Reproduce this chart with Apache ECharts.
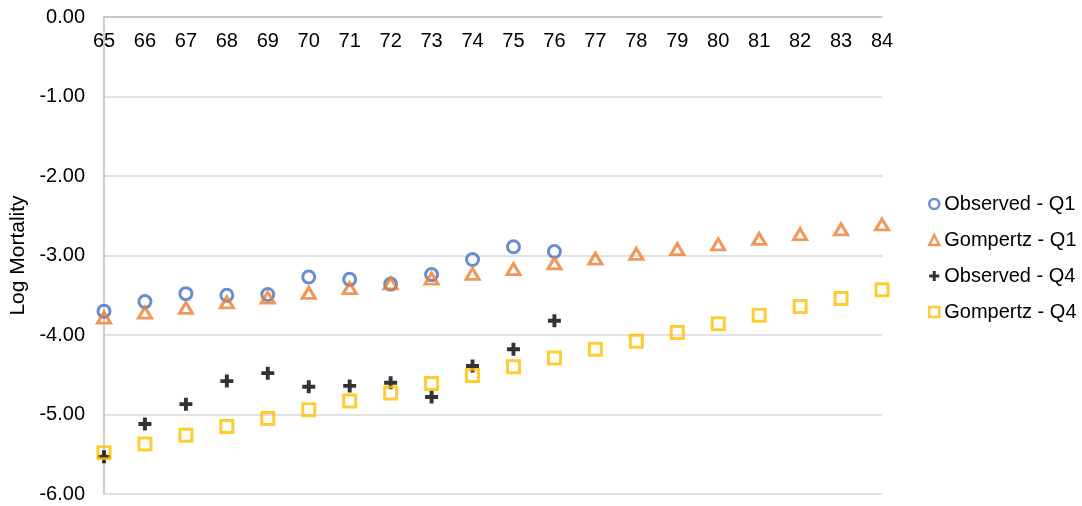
<!DOCTYPE html>
<html>
<head>
<meta charset="utf-8">
<script src="https://cdn.jsdelivr.net/npm/echarts@6/dist/echarts.min.js"></script>
<style>
  html, body { margin: 0; padding: 0; background: #fff; }
  #chart { width: 1082px; height: 506px; }
</style>
</head>
<body>
<div id="chart"></div>
<script>
// Ages on the category axis
const ages = ['65','66','67','68','69','70','71','72','73','74','75','76','77','78','79','80','81','82','83','84'];

// Log mortality by age
const observedQ1 = [-3.70, -3.58, -3.48, -3.50, -3.49, -3.27, -3.30, -3.36, -3.24, -3.05, -2.89, -2.95];
const gompertzQ1 = [-3.78, -3.72, -3.66, -3.59, -3.53, -3.47, -3.41, -3.35, -3.29, -3.23, -3.17, -3.10,
                    -3.04, -2.98, -2.92, -2.86, -2.79, -2.73, -2.67, -2.61];
const observedQ4 = [-5.53, -5.12, -4.87, -4.58, -4.48, -4.65, -4.64, -4.60, -4.78, -4.39, -4.18, -3.82];
const gompertzQ4 = [-5.48, -5.37, -5.26, -5.15, -5.05, -4.94, -4.83, -4.73, -4.61, -4.51, -4.40, -4.29,
                    -4.18, -4.08, -3.97, -3.86, -3.75, -3.64, -3.54, -3.43];

// Y axis ticks
const yMin = -6, yMax = 0, yStep = 1;

const font = 'Arial, "Liberation Sans", sans-serif';
const plusPath = 'path://M3.5,0H6.5V3.5H10V6.5H6.5V10H3.5V6.5H0V3.5H3.5Z';

const chart = echarts.init(document.getElementById('chart'));
chart.setOption({
  animation: false,
  backgroundColor: '#fff',
  textStyle: { fontFamily: font },
  grid: { left: 104, right: 200, top: 17, bottom: 12, outerBoundsMode: 'none', containLabel: false },
  legend: {
    orient: 'vertical',
    left: 923,
    top: 189,
    itemWidth: 10,
    itemHeight: 10,
    itemGap: 16,
    itemStyle: { borderWidth: 2.5 },
    textStyle: { fontSize: 20, lineHeight: 20, color: '#000', fontFamily: font },
    data: ['Observed - Q1', 'Gompertz - Q1', 'Observed - Q4', 'Gompertz - Q4']
  },
  xAxis: {
    type: 'category',
    data: ages,
    position: 'top',
    boundaryGap: false,
    axisLine: { show: true, onZero: false, lineStyle: { color: '#bfbfbf', width: 1.5 } },
    axisTick: { show: false },
    axisLabel: { inside: true, margin: 14, fontSize: 20, lineHeight: 20, color: '#000', fontFamily: font },
    splitLine: { show: false }
  },
  yAxis: {
    type: 'value',
    min: yMin,
    max: yMax,
    interval: yStep,
    name: 'Log Mortality',
    nameLocation: 'middle',
    nameRotate: 90,
    nameGap: 75,
    nameTextStyle: { fontSize: 21, color: '#000', fontFamily: font },
    axisLine: { show: true, lineStyle: { color: '#bfbfbf', width: 1.5 } },
    axisTick: { show: false },
    axisLabel: {
      margin: 19, fontSize: 20, color: '#000', fontFamily: font,
      formatter: v => v.toFixed(2)
    },
    splitLine: { show: true, lineStyle: { color: '#d9d9d9', width: 1.5 } }
  },
  series: [
    {
      name: 'Observed - Q1', type: 'scatter', data: observedQ1,
      symbol: 'circle', symbolSize: 12,
      itemStyle: { color: 'rgba(255,255,255,0)', borderColor: '#4472C4', borderWidth: 3 }
    },
    {
      name: 'Gompertz - Q1', type: 'scatter', data: gompertzQ1,
      symbol: 'triangle', symbolSize: [13, 11],
      itemStyle: { color: 'rgba(255,255,255,0)', borderColor: '#ED7D31', borderWidth: 3 }
    },
    {
      name: 'Observed - Q4', type: 'scatter', data: observedQ4,
      symbol: plusPath, symbolSize: 13,
      itemStyle: { color: '#000' }
    },
    {
      name: 'Gompertz - Q4', type: 'scatter', data: gompertzQ4,
      symbol: 'rect', symbolSize: 12,
      itemStyle: { color: 'rgba(255,255,255,0)', borderColor: '#FFC000', borderWidth: 3 }
    }
  ]
});
</script>
</body>
</html>
